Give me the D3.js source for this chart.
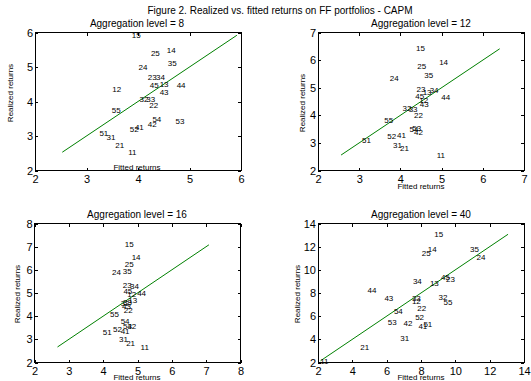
<!DOCTYPE html>
<html>
<head>
<meta charset="utf-8">
<script src="https://cdn.jsdelivr.net/npm/d3@7"></script>
<style>
  html, body { margin: 0; padding: 0; background: #fff; }
  svg { display: block; font-family: "Liberation Sans", Arial, sans-serif; }
</style>
</head>
<body>
<svg id="fig" width="531" height="381"></svg>
<script>
// Fama-French 25 portfolios (size quintile, book-to-market quintile)
const portfolios = ["11","12","13","14","15","21","22","23","24","25",
                    "31","32","33","34","35","41","42","43","44","45",
                    "51","52","53","54","55"];

// Aggregation level = 8
const fitted8   = [3.81,3.50,4.42,4.56,3.88, 3.56,4.22,4.19,4.01,4.25,
                   3.39,4.03,4.16,4.35,4.58, 3.94,4.19,4.42,4.75,4.23,
                   3.25,3.84,4.73,4.28,3.49];
const realized8 = [2.53,4.35,4.50,5.49,5.92, 2.74,3.89,4.70,4.99,5.39,
                   2.97,4.06,4.07,4.70,5.11, 3.26,3.35,4.27,4.47,4.48,
                   3.07,3.21,3.44,3.49,3.75];

// Aggregation level = 12
const fitted12   = [4.88,4.46,4.54,4.94,4.38, 3.99,4.33,4.39,3.74,4.41,
                    3.82,4.05,4.20,4.71,4.58, 3.92,4.33,4.47,4.99,4.36,
                    3.07,3.68,4.29,4.22,3.61];
const realized12 = [2.56,4.55,4.84,5.93,6.42, 2.79,4.01,4.96,5.34,5.78,
                    2.93,4.25,4.22,4.90,5.45, 3.28,3.39,4.41,4.65,4.70,
                    3.11,3.25,3.53,3.51,3.81];

// Aggregation level = 16
const fitted16   = [5.09,4.70,4.73,4.83,4.63, 4.67,4.60,4.57,4.26,4.63,
                    4.46,4.51,4.58,4.78,4.57, 4.51,4.70,4.55,4.99,4.59,
                    3.99,4.29,4.58,4.51,4.20];
const realized16 = [2.68,4.93,4.67,6.54,7.10, 2.83,4.27,5.33,5.89,6.25,
                    3.01,4.58,4.60,5.30,5.95, 3.36,3.55,4.44,5.00,5.06,
                    3.29,3.45,3.58,3.77,4.08];

// Aggregation level = 40
const fitted40   = [2.13,7.47,8.52,8.40,8.77, 4.46,7.78,9.46,11.23,8.05,
                    6.79,9.02,7.47,7.53,10.86, 7.85,6.98,5.87,4.89,9.16,
                    8.14,7.66,6.07,6.42,9.31];
const realized40 = [2.15,7.31,8.86,11.79,13.05, 3.29,6.68,9.23,11.13,11.47,
                    4.10,7.68,7.57,9.03,11.76, 5.16,5.36,7.51,8.23,9.40,
                    5.31,5.91,5.48,6.45,7.17];

// 45-degree reference line extents
const line8  = [2.53, 5.92];
const line12 = [2.56, 6.41];
const line16 = [2.67, 7.08];
const line40 = [2.15, 13.07];

// axis limits and ticks
const ticks8  = [2, 3, 4, 5, 6];
const ticks12 = [2, 3, 4, 5, 6, 7];
const ticks16 = [2, 3, 4, 5, 6, 7, 8];
const ticks40 = [2, 4, 6, 8, 10, 12, 14];

const levels = [8, 12, 16, 40];

const figTitle = "Figure 2. Realized vs. fitted returns on FF portfolios - CAPM";

const panels = [
  { level: 8,  fx: fitted8,  ry: realized8,  line: line8,  ticks: ticks8,
    box: [35, 32.5, 206, 138], xlab: [137, 167], ylab: [10, 93], title: [137, 27] },
  { level: 12, fx: fitted12, ry: realized12, line: line12, ticks: ticks12,
    box: [318, 32.5, 206, 138], xlab: [421, 186.5], ylab: [302, 103], title: [421, 27] },
  { level: 16, fx: fitted16, ry: realized16, line: line16, ticks: ticks16,
    box: [34.5, 223.5, 206, 139], xlab: [137, 377.5], ylab: [17, 294], title: [137, 218] },
  { level: 40, fx: fitted40, ry: realized40, line: line40, ticks: ticks40,
    box: [318, 223.5, 206, 139], xlab: [421, 377.5], ylab: [297, 294], title: [421, 218] }
];

const svg = d3.select("#fig");

svg.append("text")
  .attr("x", 280).attr("y", 13.5)
  .attr("text-anchor", "middle")
  .attr("font-size", 10)
  .text(figTitle);

panels.forEach(p => {
  const [bx, by, bw, bh] = p.box;
  const lo = p.ticks[0], hi = p.ticks[p.ticks.length - 1];
  const x = d3.scaleLinear().domain([lo, hi]).range([0, bw]);
  const y = d3.scaleLinear().domain([lo, hi]).range([bh, 0]);

  const g = svg.append("g").attr("transform", `translate(${bx},${by})`);

  // inward ticks on all four sides
  const styleAxis = (sel, showLabels) => {
    sel.select(".domain").remove();
    sel.selectAll(".tick line").attr("stroke", "#000").attr("shape-rendering", "crispEdges");
    sel.selectAll(".tick text").attr("fill", "#000");
    if (!showLabels) sel.selectAll(".tick text").remove();
  };
  g.append("g").attr("transform", `translate(0,${bh})`)
    .call(d3.axisBottom(x).tickValues(p.ticks).tickFormat(d3.format("d"))
      .tickSizeInner(-3).tickSizeOuter(0).tickPadding(5))
    .attr("font-size", 11).attr("font-family", null)
    .call(s => styleAxis(s, true));
  g.append("g")
    .call(d3.axisLeft(y).tickValues(p.ticks).tickFormat(d3.format("d"))
      .tickSizeInner(-3).tickSizeOuter(0).tickPadding(2))
    .attr("font-size", 11).attr("font-family", null)
    .call(s => styleAxis(s, true));
  g.append("g")
    .call(d3.axisTop(x).tickValues(p.ticks).tickSizeInner(-3).tickSizeOuter(0))
    .call(s => styleAxis(s, false));
  g.append("g").attr("transform", `translate(${bw},0)`)
    .call(d3.axisRight(y).tickValues(p.ticks).tickSizeInner(-3).tickSizeOuter(0))
    .call(s => styleAxis(s, false));

  g.append("rect")
    .attr("width", bw).attr("height", bh)
    .attr("fill", "none").attr("stroke", "#000")
    .attr("shape-rendering", "crispEdges");

  // reference line
  g.append("line")
    .attr("x1", x(p.line[0])).attr("y1", y(p.line[0]))
    .attr("x2", x(p.line[1])).attr("y2", y(p.line[1]))
    .attr("stroke", "#008000").attr("stroke-width", 1);

  // portfolio labels at (fitted, realized)
  g.selectAll("text.pf")
    .data(portfolios.map((name, i) => ({ name, fx: p.fx[i], ry: p.ry[i] })))
    .join("text")
    .attr("class", "pf")
    .attr("x", d => x(d.fx))
    .attr("y", d => y(d.ry))
    .attr("dy", "0.35em")
    .attr("font-size", 8)
    .text(d => d.name);

  // titles and axis labels (figure coordinates)
  svg.append("text")
    .attr("x", p.title[0]).attr("y", p.title[1])
    .attr("text-anchor", "middle").attr("font-size", 10)
    .text(`Aggregation level = ${p.level}`);
  svg.append("text")
    .attr("x", p.xlab[0]).attr("y", p.xlab[1])
    .attr("text-anchor", "middle").attr("dy", "0.35em").attr("font-size", 8)
    .text("Fitted returns");
  svg.append("text")
    .attr("transform", `translate(${p.ylab[0]},${p.ylab[1]}) rotate(-90)`)
    .attr("text-anchor", "middle").attr("dy", "0.35em").attr("font-size", 8)
    .text("Realized returns");
});
</script>
</body>
</html>
